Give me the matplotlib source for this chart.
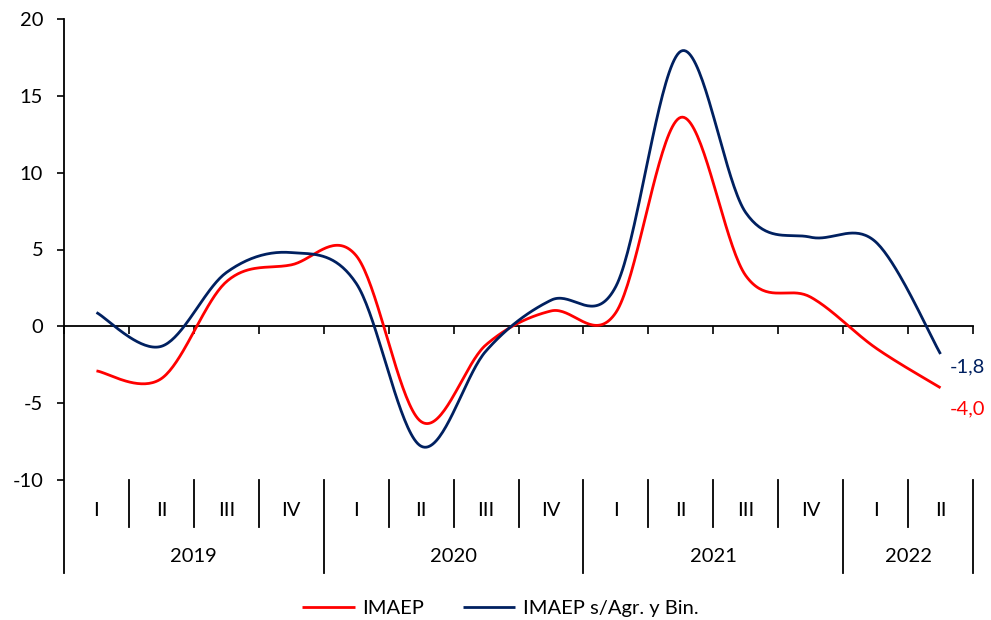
import numpy as np
import matplotlib
matplotlib.use("Agg")
import matplotlib.pyplot as plt
from matplotlib.lines import Line2D

plt.rcParams['font.family'] = ['Lato', 'DejaVu Sans']
plt.rcParams['axes.unicode_minus'] = False

quarters = ["I", "II", "III", "IV", "I", "II", "III", "IV", "I", "II", "III", "IV", "I", "II"]
years = ["2019", "2020", "2021", "2022"]
year_counts = [4, 4, 4, 2]
imaep = [-2.9, -3.4, 2.9, 4.0, 4.6, -6.2, -1.2, 1.0, 0.9, 13.6, 3.3, 1.9, -1.4, -4.0]
imaep_sagr = [0.9, -1.3, 3.5, 4.8, 2.8, -7.8, -1.6, 1.7, 2.6, 17.9, 7.4, 5.8, 5.5, -1.8]
series_names = ["IMAEP", "IMAEP s/Agr. y Bin."]
series_colors = ["#FF0000", "#002060"]
last_labels = ["-4,0", "-1,8"]

FS = 14.5


def smooth(y, n=40):
    y = np.asarray(y, float)
    x = np.arange(len(y), dtype=float)
    P = np.column_stack([x, y])
    P = np.vstack([P[0], P, P[-1]])
    out = []
    t = np.linspace(0, 1, n)
    for i in range(1, len(P) - 2):
        p0, p1, p2, p3 = P[i - 1], P[i], P[i + 1], P[i + 2]
        c1 = p1 + (p2 - p0) / 6.0
        c2 = p2 - (p3 - p1) / 6.0
        seg = ((1 - t) ** 3)[:, None] * p1 + (3 * (1 - t) ** 2 * t)[:, None] * c1 \
            + (3 * (1 - t) * t ** 2)[:, None] * c2 + (t ** 3)[:, None] * p2
        out.append(seg if i == 1 else seg[1:])
    s = np.vstack(out)
    return s[:, 0], s[:, 1]


fig = plt.figure(figsize=(9.91, 6.2), dpi=100)
ax = fig.add_axes([64 / 991, 1 - 480 / 620, (973 - 64) / 991, (480 - 19) / 620])

for vals, col, name in zip([imaep, imaep_sagr], series_colors, series_names):
    xs, ys = smooth(vals)
    ax.plot(xs, ys, color=col, lw=2.0, label=name, solid_capstyle='butt', zorder=3)

n = len(quarters)
ax.set_xlim(-0.5, n - 0.5)
ax.set_ylim(-10, 20)
ax.set_yticks(np.arange(-10, 21, 5))
ax.tick_params(axis='y', direction='out', length=5, width=1.2, labelsize=FS, pad=10)

for s in ['top', 'right', 'left']:
    ax.spines[s].set_visible(False)
ax.spines['bottom'].set_position(('data', 0))
ax.spines['bottom'].set_linewidth(1.3)
ax.set_xticks(np.arange(-0.5, n, 1.0))
ax.set_xticklabels([])
ax.tick_params(axis='x', direction='out', length=6, width=1.2)

axh = 461.0
y_q = -47 / axh
y_y = -93 / axh
ax.add_line(Line2D([-0.5, -0.5], [1, y_y], transform=ax.get_xaxis_transform(),
                   color='black', lw=1.3, clip_on=False))

pos = 0
year_bounds = set()
for c in year_counts:
    pos += c
    year_bounds.add(pos)
for i in range(1, n + 1):
    xb = i - 0.5
    y_end = y_y if i in year_bounds else y_q
    ax.add_line(Line2D([xb, xb], [0, y_end], transform=ax.get_xaxis_transform(),
                       color='black', lw=1.3, clip_on=False))

for i, q in enumerate(quarters):
    ax.text(i, -31 / axh, q, transform=ax.get_xaxis_transform(), ha='center', va='center',
            fontsize=FS)
start = 0
for yr, c in zip(years, year_counts):
    ax.text(start + (c - 1) / 2, -77 / axh, yr, transform=ax.get_xaxis_transform(),
            ha='center', va='center', fontsize=FS)
    start += c

ax.annotate(last_labels[0], (n - 1, imaep[-1]), xytext=(19.5, -15), textcoords='offset points',
            ha='center', va='center', color=series_colors[0], fontsize=FS, annotation_clip=False)
ax.annotate(last_labels[1], (n - 1, imaep_sagr[-1]), xytext=(19.5, -9), textcoords='offset points',
            ha='center', va='center', color=series_colors[1], fontsize=FS, annotation_clip=False)

fig.legend(loc='center', bbox_to_anchor=(0.505, 1 - 608 / 620), ncol=2, frameon=False,
           fontsize=FS, handlelength=2.6, columnspacing=1.9, handletextpad=0.4)

fig.savefig("out.png", dpi=100)
